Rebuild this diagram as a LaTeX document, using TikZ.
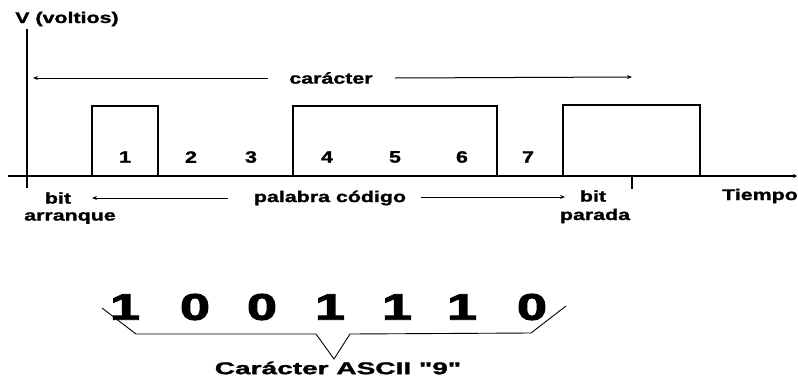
\documentclass[tikz,border=0pt]{standalone}
\usepackage{fontspec}
\setmainfont{Liberation Sans}
\newfontfamily\heavyfont[FakeBold=1.2]{Liberation Sans Bold}
\newfontfamily\heavierfont[FakeBold=2.5]{Liberation Sans Bold}
\usetikzlibrary{arrows.meta}
\begin{document}
\begin{tikzpicture}[x=1pt,y=-1pt,
  lbl/.style={font=\heavyfont\fontsize{15.5}{15.5}\selectfont, xscale=1.38, inner sep=0pt},
  num/.style={font=\heavyfont\fontsize{16.5}{16.5}\selectfont, xscale=1.3, inner sep=0pt},
  big/.style={font=\heavierfont\fontsize{37}{37}\selectfont, xscale=1.45, inner sep=0pt},
  asciilbl/.style={font=\heavyfont\fontsize{17}{17}\selectfont, xscale=1.65, inner sep=0pt},
  arr/.style={line width=1pt, -{Stealth[length=5pt,width=4pt]}},
  axis/.style={line width=1.4pt},
  wave/.style={line width=2.8pt, line join=miter}]
\useasboundingbox (0,0) rectangle (798,381);
% axes
\coordinate (vb) at (27,188);
\coordinate (vt) at (27,29);
\coordinate (hl) at (8,176);
\coordinate (hr) at (797,176);
\draw[line width=2.4pt] (vb) -- (vt);
\draw[axis, -{Stealth[length=4pt,width=4pt]}] (hl) -- (hr);
\node[lbl, anchor=base west] (V) at (15,23) {V (voltios)};
% waveform
\draw[wave] (27,176) -- (92,176) -- (92,106) -- (158,106) -- (158,176)
  -- (293,176) -- (293,106) -- (497,106) -- (497,176) -- (563,176)
  -- (563,105) -- (700,105) -- (700,176);
% tick
\coordinate (t1) at (632,176);
\coordinate (t2) at (632,189);
\draw[line width=1.2pt] (t1) -- (t2);
% bit numbers
\foreach \n/\x in {1/125,2/191,3/251,4/327,5/395,6/462,7/528}
  \node[num] (b\n) at (\x,157) {\n};
% caracter arrow
\node[lbl] (car) at (331,78) {carácter};
\coordinate (cl) at (33,78);
\coordinate (c1) at (268,78);
\coordinate (c2) at (395,78);
\coordinate (cr) at (632,77);
\draw[arr] (c1) -- (cl);
\draw[arr] (c2) -- (cr);
% palabra codigo
\node[lbl] (pal) at (330,198) {palabra código};
\coordinate (pl) at (92,198);
\coordinate (p1) at (228,198);
\coordinate (p2) at (421,197);
\coordinate (pr) at (565,197);
\draw[arr] (p1) -- (pl);
\draw[arr] (p2) -- (pr);
% labels
\node[lbl] (bit1) at (58,198) {bit};
\node[lbl] (arr1) at (70,218) {arranque};
\node[lbl] (bit2) at (593,196) {bit};
\node[lbl] (par) at (595,216) {parada};
\node[lbl] (tie) at (760,196) {Tiempo};
% bottom digits
\foreach \d/\x/\i in {1/125/1,0/195/2,0/262/3,1/330/4,1/397/5,1/462/6,0/532/7}
  \node[big] (d\i) at (\x,307) {\d};
% brace
\coordinate (k1) at (102,308);
\coordinate (k2) at (136,334);
\coordinate (k3) at (316,334);
\coordinate (k4) at (334,359);
\coordinate (k5) at (350,334);
\coordinate (k6) at (531,333);
\coordinate (k7) at (566,306);
\draw[line width=0.9pt] (k1) -- (k2) -- (k3) -- (k4) -- (k5) -- (k6) -- (k7);
\node[asciilbl] (ascii) at (338,368) {Carácter ASCII \symbol{34}9\symbol{34}};
\end{tikzpicture}
\end{document}
